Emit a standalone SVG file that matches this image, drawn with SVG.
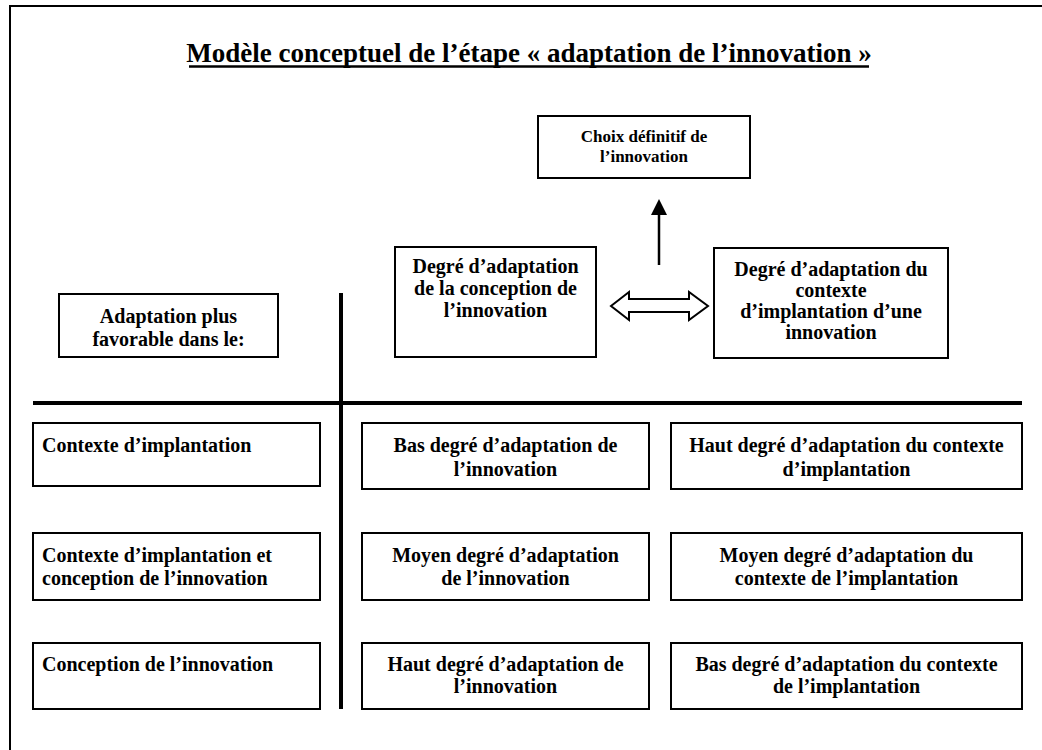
<svg xmlns="http://www.w3.org/2000/svg" width="1042" height="750" viewBox="0 0 1042 750">
  <style>
    .box { fill: #fff; stroke: #000; stroke-width: 2; }
    .t { font-family: "Liberation Serif", "Times New Roman", serif; font-weight: bold; font-size: 20px; fill: #000; }
    .c { text-anchor: middle; }
    .small { font-size: 17px; }
    .title { font-size: 27px; }
    .axis { stroke: #000; stroke-width: 4; fill: none; }
    .frame { stroke: #000; stroke-width: 2; fill: none; }
  </style>

  <rect x="0" y="0" width="1042" height="750" fill="#fff"/>

  <!-- page frame -->
  <path class="frame" d="M10,750 V6 H1042"/>

  <!-- title -->
  <g id="title">
    <text class="t title c" x="529" y="62">Modèle conceptuel de l’étape « adaptation de l’innovation »</text>
    <line x1="189" y1="66.5" x2="869" y2="66.5" stroke="#000" stroke-width="2.5"/>
  </g>

  <!-- axes of the table -->
  <g id="axes">
    <line class="axis" x1="33" y1="403" x2="1022" y2="403"/>
    <line class="axis" x1="341" y1="293" x2="341" y2="709" stroke-width="3.5"/>
  </g>

  <!-- connectors -->
  <g id="connectors">
    <line x1="659" y1="265" x2="659" y2="212" stroke="#000" stroke-width="2.5"/>
    <polygon points="659,199 651,215 667,215" fill="#000"/>
    <polygon points="611,306 629,292 629,299 689,299 689,292 708,306 689,320 689,312 629,312 629,320" fill="#fff" stroke="#000" stroke-width="2" stroke-linejoin="miter"/>
  </g>

  <g id="choix">
    <rect class="box" x="538" y="116" width="212" height="62"/>
    <text class="t small c" x="644" y="142">Choix définitif de</text>
    <text class="t small c" x="644" y="162">l’innovation</text>
  </g>

  <g id="degre-conception">
    <rect class="box" x="395" y="247" width="201" height="110"/>
    <text class="t c" x="495.5" y="273">Degré d’adaptation</text>
    <text class="t c" x="495.5" y="295">de la conception de</text>
    <text class="t c" x="495.5" y="317">l’innovation</text>
  </g>

  <g id="degre-contexte">
    <rect class="box" x="714" y="248" width="234" height="110"/>
    <text class="t c" x="831" y="276">Degré d’adaptation du</text>
    <text class="t c" x="831" y="297">contexte</text>
    <text class="t c" x="831" y="318">d’implantation d’une</text>
    <text class="t c" x="831" y="339">innovation</text>
  </g>

  <g id="adaptation-favorable">
    <rect class="box" x="59" y="294" width="219" height="63"/>
    <text class="t c" x="168.5" y="323">Adaptation plus</text>
    <text class="t c" x="168.5" y="346">favorable dans le:</text>
  </g>

  <!-- row 1 -->
  <g id="r1-left">
    <rect class="box" x="33" y="423" width="287" height="63"/>
    <text class="t" x="42" y="452">Contexte d’implantation</text>
  </g>
  <g id="r1-mid">
    <rect class="box" x="362" y="423" width="287" height="66"/>
    <text class="t c" x="505.5" y="452">Bas degré d’adaptation de</text>
    <text class="t c" x="505.5" y="476">l’innovation</text>
  </g>
  <g id="r1-right">
    <rect class="box" x="671" y="423" width="351" height="66"/>
    <text class="t c" x="846.5" y="452">Haut degré d’adaptation du contexte</text>
    <text class="t c" x="846.5" y="476">d’implantation</text>
  </g>

  <!-- row 2 -->
  <g id="r2-left">
    <rect class="box" x="33" y="533" width="287" height="67"/>
    <text class="t" x="42" y="562">Contexte d’implantation et</text>
    <text class="t" x="42" y="585">conception de l’innovation</text>
  </g>
  <g id="r2-mid">
    <rect class="box" x="362" y="533" width="287" height="67"/>
    <text class="t c" x="505.5" y="562">Moyen degré d’adaptation</text>
    <text class="t c" x="505.5" y="585">de l’innovation</text>
  </g>
  <g id="r2-right">
    <rect class="box" x="671" y="533" width="351" height="67"/>
    <text class="t c" x="846.5" y="562">Moyen degré d’adaptation du</text>
    <text class="t c" x="846.5" y="585">contexte de l’implantation</text>
  </g>

  <!-- row 3 -->
  <g id="r3-left">
    <rect class="box" x="33" y="643" width="287" height="66"/>
    <text class="t" x="42" y="671">Conception de l’innovation</text>
  </g>
  <g id="r3-mid">
    <rect class="box" x="362" y="643" width="287" height="66"/>
    <text class="t c" x="505.5" y="671">Haut degré d’adaptation de</text>
    <text class="t c" x="505.5" y="693">l’innovation</text>
  </g>
  <g id="r3-right">
    <rect class="box" x="671" y="643" width="351" height="66"/>
    <text class="t c" x="846.5" y="671">Bas degré d’adaptation du contexte</text>
    <text class="t c" x="846.5" y="693">de l’implantation</text>
  </g>
</svg>
